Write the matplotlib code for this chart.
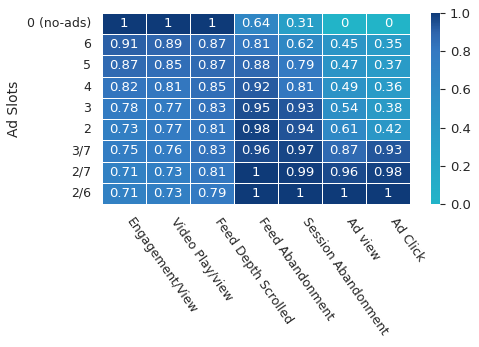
import numpy as np
import matplotlib
matplotlib.use('Agg')
import matplotlib.pyplot as plt
from matplotlib.colors import LinearSegmentedColormap
import seaborn as sns

rows = ['0 (no-ads)', '6', '5', '4', '3', '2', '3/7', '2/7', '2/6']
cols = ['Engagement/View', 'Video Play/view', 'Feed Depth Scrolled',
        'Feed Abandonment', 'Session Abandonment', 'Ad view', 'Ad Click']
vals = np.array([
    [1,    1,    1,    0.64, 0.31, 0,    0],
    [0.91, 0.89, 0.87, 0.81, 0.62, 0.45, 0.35],
    [0.87, 0.85, 0.87, 0.88, 0.79, 0.47, 0.37],
    [0.82, 0.81, 0.85, 0.92, 0.81, 0.49, 0.36],
    [0.78, 0.77, 0.83, 0.95, 0.93, 0.54, 0.38],
    [0.73, 0.77, 0.81, 0.98, 0.94, 0.61, 0.42],
    [0.75, 0.76, 0.83, 0.96, 0.97, 0.87, 0.93],
    [0.71, 0.73, 0.81, 1,    0.99, 0.96, 0.98],
    [0.71, 0.73, 0.79, 1,    1,    1,    1],
])

sns.set_style('ticks')
cmap = LinearSegmentedColormap.from_list(
    'cyanblue', [(0, '#22b4c8'), (0.5, '#2c92c6'), (0.8, '#3479c2'),
                 (0.9, '#2e64ac'), (1, '#0e3a78')])

fig = plt.figure(figsize=(4.79, 3.47), dpi=100)
ax = fig.add_axes([0.213, 0.412, 0.643, 0.551])
cax = fig.add_axes([0.9, 0.412, 0.019, 0.551])

sns.heatmap(vals, ax=ax, cbar_ax=cax, cmap=cmap, vmin=0, vmax=1,
            annot=True, annot_kws={'fontsize': 9.5, 'color': 'white'},
            linewidths=0.6, linecolor='white',
            xticklabels=cols, yticklabels=rows)

ax.tick_params(length=0, labelsize=9, pad=8)
ax.set_yticklabels(rows, rotation=0)
ax.set_xticklabels(cols, rotation=-55, ha='left')
ax.set_ylabel('Ad Slots', fontsize=10)
cax.tick_params(labelsize=9.5)
cax.set_yticks([0, 0.2, 0.4, 0.6, 0.8, 1.0])
for s in cax.spines.values():
    s.set_visible(False)

fig.savefig('out.png', dpi=100)
